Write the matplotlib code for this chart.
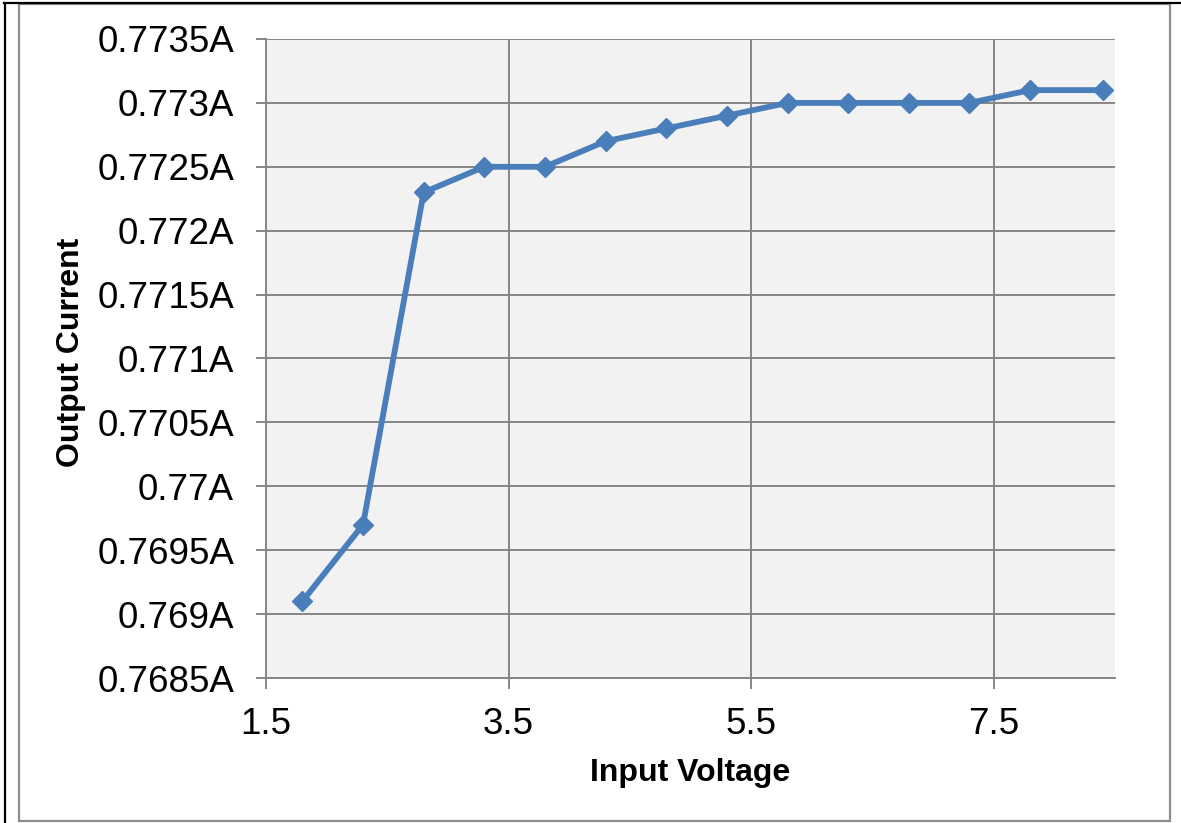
import matplotlib
matplotlib.use("Agg")
import matplotlib.pyplot as plt
from matplotlib.ticker import FuncFormatter, MultipleLocator
from matplotlib.lines import Line2D
from matplotlib.patches import Rectangle

plt.rcParams['font.family'] = ['Liberation Sans', 'DejaVu Sans']

# Measured output current versus input voltage
input_voltage = [1.8, 2.3, 2.8, 3.3, 3.8, 4.3, 4.8, 5.3, 5.8, 6.3, 6.8, 7.3, 7.8, 8.4]
output_current = [0.7691, 0.7697, 0.7723, 0.7725, 0.7725, 0.7727, 0.7728,
                  0.7729, 0.7730, 0.7730, 0.7730, 0.7730, 0.7731, 0.7731]

x_ticks = [1.5, 3.5, 5.5, 7.5]
y_min, y_max, y_step = 0.7685, 0.7735, 0.0005

W, H = 1181, 823
fig = plt.figure(figsize=(W / 100, H / 100), dpi=100)
fig.patch.set_facecolor('white')

# outer frame: gray chart-area border plus black edge lines
fig.add_artist(Rectangle((19 / W, 1 - 821 / H), (1170 - 19) / W, (821 - 4) / H,
                         transform=fig.transFigure, fill=False,
                         edgecolor='#8c8c8c', linewidth=1.6))
fig.add_artist(Line2D([4 / W, 1], [1 - 3 / H, 1 - 3 / H], transform=fig.transFigure,
                      color='black', linewidth=1.6))
fig.add_artist(Line2D([5 / W, 5 / W], [0, 1 - 3 / H], transform=fig.transFigure,
                      color='black', linewidth=1.6))

left, right, top, bottom = 266, 1115, 39, 678
ax = fig.add_axes([left / W, 1 - bottom / H, (right - left) / W, (bottom - top) / H])
ax.set_facecolor('#f2f2f2')

ax.plot(input_voltage, output_current, color='#4a7ebb', linewidth=4.2,
        marker='D', markersize=10.5, markeredgecolor='#4a7ebb',
        markerfacecolor='#4a7ebb', zorder=3, clip_on=False)

ax.set_xlim(1.5, 8.5)
ax.set_ylim(y_min, y_max)
ax.set_xticks(x_ticks)
ax.xaxis.set_major_formatter(FuncFormatter(lambda v, p: f"{v:g}"))
ax.yaxis.set_major_locator(MultipleLocator(y_step))
ax.yaxis.set_major_formatter(FuncFormatter(lambda v, p: f"{round(v, 4):g}A"))

grid_color = '#868686'
ax.grid(True, color=grid_color, linewidth=1.4)
ax.set_axisbelow(True)
for side in ('top', 'right'):
    ax.spines[side].set_visible(False)
for side in ('left', 'bottom'):
    ax.spines[side].set_color(grid_color)
    ax.spines[side].set_linewidth(1.4)

ax.tick_params(axis='both', direction='out', color=grid_color, width=1.4,
               labelsize=26.5, labelcolor='black')
ax.tick_params(axis='y', length=7, pad=16)
ax.tick_params(axis='x', length=8, pad=13)

ax.set_xlabel('Input Voltage', fontsize=23, fontweight='bold', va='center')
ax.xaxis.set_label_coords(0.5, -0.148)
ax.set_ylabel('Output Current', fontsize=23, fontweight='bold', va='center')
ax.yaxis.set_label_coords(-0.2297, 0.51)

fig.savefig('out.png', dpi=100)
